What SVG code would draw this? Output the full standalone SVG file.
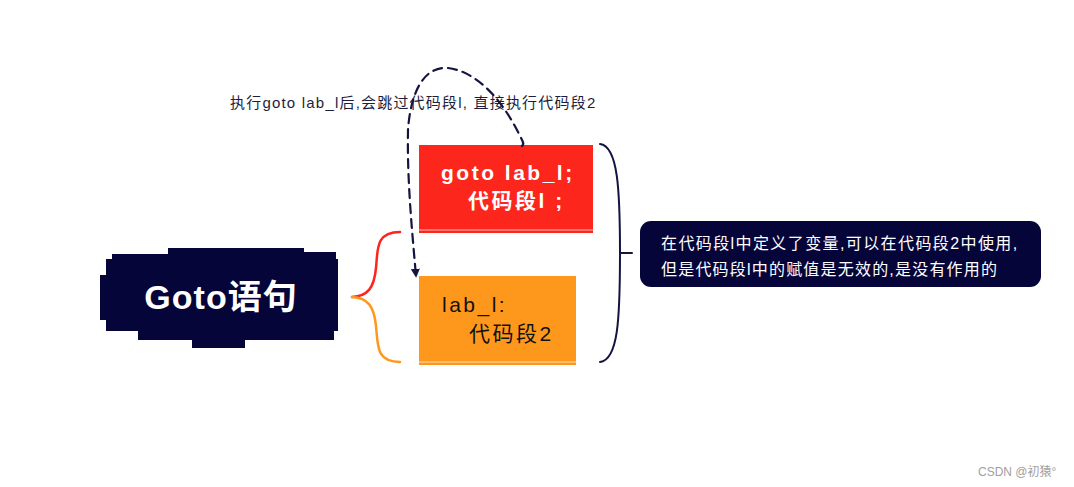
<svg xmlns="http://www.w3.org/2000/svg" width="1074" height="487" viewBox="0 0 1074 487">
<style>
.navy{fill:#06053a}
.t{font-family:"Liberation Sans","Noto Sans CJK SC",sans-serif}
.dash{fill:none;stroke:#141440;stroke-width:2.2;stroke-dasharray:9 6;stroke-linecap:round}
.line{fill:none;stroke:#141440;stroke-width:2;stroke-linecap:round}
.box{font-size:21px;letter-spacing:2.5px}
</style>
<defs>
<marker id="ah" viewBox="0 0 10 10" refX="8" refY="5" markerWidth="9" markerHeight="9" orient="auto" markerUnits="userSpaceOnUse">
<path d="M0,0 L10,5 L0,10 z" fill="#141440"/>
</marker>
</defs>
<rect width="1074" height="487" fill="#ffffff"/>

<g id="goto-node">
<rect class="navy" x="106" y="259" width="232" height="72"/>
<rect class="navy" x="168" y="248" width="136" height="14"/>
<rect class="navy" x="112" y="254" width="60" height="8"/>
<rect class="navy" x="300" y="252" width="36" height="10"/>
<rect class="navy" x="100" y="275" width="12" height="45"/>
<rect class="navy" x="138" y="328" width="196" height="12"/>
<rect class="navy" x="192" y="336" width="53" height="12"/>
<text class="t" x="221" y="309" font-size="34" font-weight="bold" fill="#ffffff" text-anchor="middle" letter-spacing="1">Goto语句</text>
</g>

<g id="red-block">
<rect x="419" y="145" width="174" height="88" fill="#fd261d"/>
<line x1="419" y1="230" x2="593" y2="230" stroke="#ffffff" stroke-width="1" opacity="0.7"/>
<text class="t box" x="441" y="180" font-weight="bold" fill="#ffffff">goto lab_l;</text>
<text class="t box" x="468" y="208" font-weight="bold" fill="#ffffff">代码段l ;</text>
</g>

<g id="orange-block">
<rect x="419" y="276" width="157" height="89" fill="#fe981c"/>
<line x1="419" y1="362" x2="576" y2="362" stroke="#ffffff" stroke-width="1" opacity="0.7"/>
<text class="t box" x="442" y="312" fill="#111111">lab_l:</text>
<text class="t box" x="469" y="341" fill="#111111">代码段2</text>
</g>

<g id="note-node">
<rect class="navy" x="640" y="221" width="401" height="66" rx="11"/>
<text class="t" x="661" y="249" font-size="16" letter-spacing="1.4" fill="#ffffff">在代码段l中定义了变量,可以在代码段2中使用,</text>
<text class="t" x="661" y="275" font-size="16" letter-spacing="1.2" fill="#ffffff">但是代码段l中的赋值是无效的,是没有作用的</text>
</g>

<g id="label">
<text class="t" x="230" y="108" font-size="15" letter-spacing="1.2" fill="#1e1e3c">执行goto lab_l后,会跳过代码段l, 直接执行代码段2</text>
</g>

<g id="connectors">
<path d="M400,232 C375,232 378,250 376,268 C374,288 368,296 352,297" fill="none" stroke="#fd261d" stroke-width="2.5" stroke-linecap="round"/>
<path d="M352,297 C368,298 374,306 376,326 C378,346 376,362 400,362" fill="none" stroke="#fe981c" stroke-width="2.5" stroke-linecap="round"/>
<path class="line" d="M600,144 C618,146 620,190 620,253 C620,320 618,360 600,362"/>
<line class="line" x1="620" y1="253" x2="632" y2="253"/>
<path class="dash" d="M522,146 C525,144 522,140 520,136 C505,105 480,72 448,68 C420,66 410,100 408,130 C407,180 412,230 416,276" marker-end="url(#ah)"/>
</g>

<text class="t" x="978" y="476" font-size="12" fill="#a0a0a0">CSDN @初猿°</text>
</svg>
